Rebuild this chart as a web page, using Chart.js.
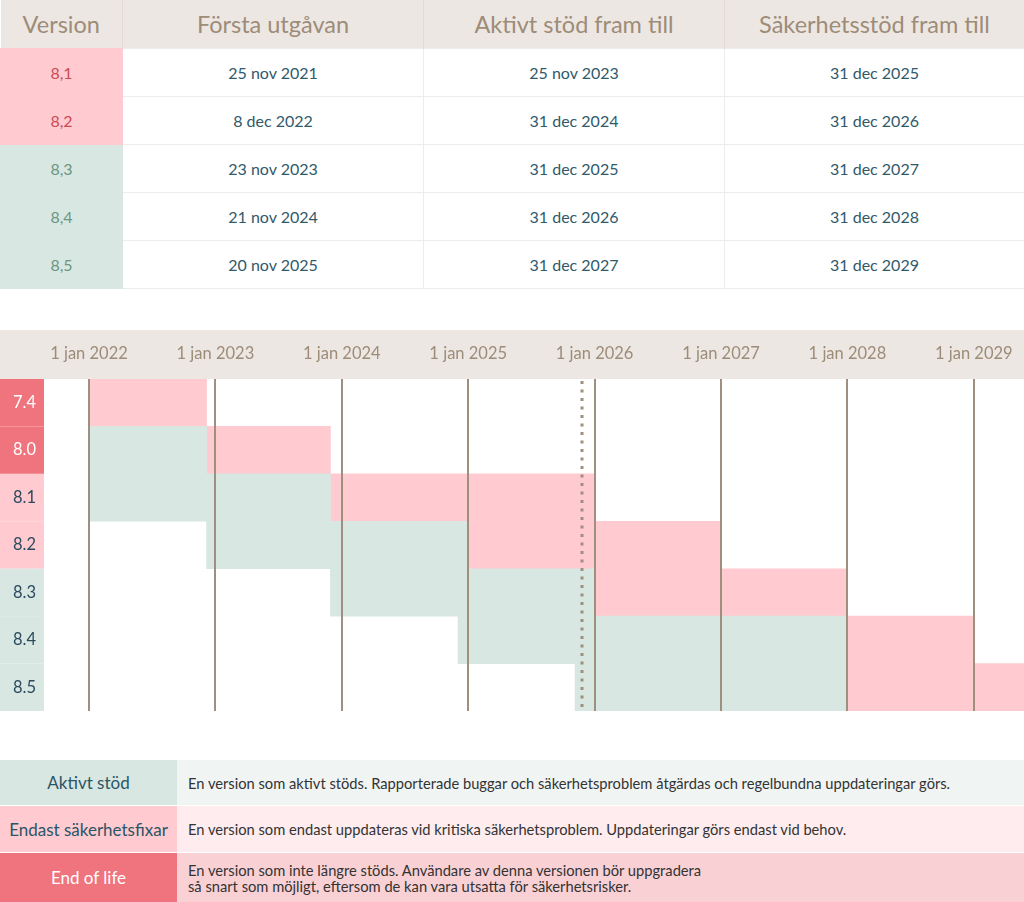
<!DOCTYPE html>
<html lang="sv">
<head>
<meta charset="utf-8">
<title>Versioner och support</title>
<script src="https://cdn.jsdelivr.net/npm/chart.js@4.4.1/dist/chart.umd.min.js"></script>
<style>
  body { margin: 0; width: 1024px; height: 902px; position: relative; overflow: hidden; background: #fff; font-family: Lato, 'Noto Sans', sans-serif; }
  table { border-collapse: collapse; table-layout: fixed; width: 1024px; }
  #versions { position: absolute; left: 0; top: 0; }
  #versions th { height: 48px; padding: 0; background: #ede7e3; color: #9d8c78; font-size: 23.5px; font-weight: normal; border-right: 1px solid #e2dbd6; }
  #versions td { height: 47px; padding: 0; text-align: center; color: #2f5a6b; font-size: 16px; border: 1px solid #ececec; }
  #versions td.sec { background: #ffcbd0; color: #cc4a55; border-color: #ffcbd0; }
  #versions td.act { background: #d8e7e2; color: #6e9580; border-color: #d8e7e2; }
  #chartBox { position: absolute; left: 0; top: 330px; width: 1024px; height: 381px; }
  #legend { position: absolute; left: 0; top: 760px; }
  #legend th { padding: 0; font-size: 17px; font-weight: normal; color: #2b5566; border-bottom: 1px solid #fff; }
  #legend td { padding: 0 0 0 11px; font-size: 14.7px; color: #333; line-height: 16px; border-bottom: 1px solid #fff; }
  #legend tr.act th { background: #d8e7e2; height: 45px; }
  #legend tr.act td { background: #f0f5f3; }
  #legend tr.sec th { background: #ffcbd0; height: 46px; }
  #legend tr.sec td { background: #feecee; }
  #legend tr.eol th { background: #ef747e; color: #fff; height: 49px; }
  #legend tr.eol td { background: #f9d1d5; }
</style>
</head>
<body>

<table id="versions">
  <colgroup><col style="width:122px"><col style="width:301px"><col style="width:301px"><col style="width:300px"></colgroup>
  <tr><th>Version</th><th>Första utgåvan</th><th>Aktivt stöd fram till</th><th>Säkerhetsstöd fram till</th></tr>
  <tr><td class="sec">8,1</td><td>25 nov 2021</td><td>25 nov 2023</td><td>31 dec 2025</td></tr>
  <tr><td class="sec">8,2</td><td>8 dec 2022</td><td>31 dec 2024</td><td>31 dec 2026</td></tr>
  <tr><td class="act">8,3</td><td>23 nov 2023</td><td>31 dec 2025</td><td>31 dec 2027</td></tr>
  <tr><td class="act">8,4</td><td>21 nov 2024</td><td>31 dec 2026</td><td>31 dec 2028</td></tr>
  <tr><td class="act">8,5</td><td>20 nov 2025</td><td>31 dec 2027</td><td>31 dec 2029</td></tr>
</table>

<div id="chartBox"><canvas id="timeline"></canvas></div>

<table id="legend">
  <colgroup><col style="width:177px"><col style="width:847px"></colgroup>
  <tr class="act"><th>Aktivt stöd</th><td>En version som aktivt stöds. Rapporterade buggar och säkerhetsproblem åtgärdas och regelbundna uppdateringar görs.</td></tr>
  <tr class="sec"><th>Endast säkerhetsfixar</th><td>En version som endast uppdateras vid kritiska säkerhetsproblem. Uppdateringar görs endast vid behov.</td></tr>
  <tr class="eol"><th>End of life</th><td>En version som inte längre stöds. Användare av denna versionen bör uppgradera<br>så snart som möjligt, eftersom de kan vara utsatta för säkerhetsrisker.</td></tr>
</table>

<script>
'use strict';

// chart data (decimal years)
var versions = ['7.4', '8.0', '8.1', '8.2', '8.3', '8.4', '8.5'];
var activeSupport = [
  null,
  [2022.0, 2022.93],
  [2022.0, 2023.91],
  [2022.93, 2025.0],
  [2023.91, 2026.0],
  [2024.92, 2028.0],
  [2025.845, 2028.0]
];
var securitySupport = [
  [2022.0, 2022.93],
  [2022.93, 2023.91],
  [2023.91, 2026.0],
  [2025.0, 2027.0],
  [2026.0, 2028.0],
  [2028.0, 2029.0],
  [2028.0, 2029.4]
];
var yearTicks = [2022, 2023, 2024, 2025, 2026, 2027, 2028, 2029];
var today = 2025.9;
var xMin = 2021.644;
var xMax = 2029.397;

// colors
var activeColor = '#d8e7e2';
var securityColor = '#ffcbd0';
var endOfLifeColor = '#ef747e';
var lineColor = '#9e8f7e';
var headerColor = '#ede7e3';
var headerTextColor = '#9d8c78';
var textColor = '#2b4a5e';

// status of each version on the "today" line
function statusOf(i){
  if(activeSupport[i] && activeSupport[i][1] > today){
    return 'active';
  }
  if(securitySupport[i] && securitySupport[i][1] > today){
    return 'security';
  }
  return 'eol';
}
function labelBackground(i){
  var status = statusOf(i);
  if(status === 'active') return activeColor;
  if(status === 'security') return securityColor;
  return endOfLifeColor;
}

// header band, version cells and the dotted today line
var backdrop = {
  id: 'backdrop',
  beforeDraw: function(chart){
    var ctx = chart.ctx;
    var area = chart.chartArea;
    var yScale = chart.scales.y;
    var rowHeight = (area.bottom - area.top) / versions.length;
    ctx.save();
    ctx.fillStyle = headerColor;
    ctx.fillRect(0, 0, chart.width, area.top);
    for (var i = 0; i < versions.length; i++) {
      var mid = yScale.getPixelForValue(i);
      ctx.fillStyle = labelBackground(i);
      ctx.fillRect(0, mid - rowHeight / 2, area.left, rowHeight);
    }
    ctx.restore();
  },
  afterDraw: function(chart){
    var ctx = chart.ctx;
    var area = chart.chartArea;
    var x = Math.round(chart.scales.x.getPixelForValue(today));
    ctx.save();
    ctx.strokeStyle = lineColor;
    ctx.lineWidth = 3;
    ctx.setLineDash([3, 5.5]);
    ctx.beginPath();
    ctx.moveTo(x, area.top + 2);
    ctx.lineTo(x, area.bottom);
    ctx.stroke();
    ctx.restore();
  }
};

new Chart(document.getElementById('timeline'), {
  type: 'bar',
  data: {
    labels: versions,
    datasets: [
      {
        label: 'Aktivt stöd',
        data: activeSupport,
        backgroundColor: activeColor,
        grouped: false,
        barPercentage: 1,
        categoryPercentage: 1,
        borderWidth: 0
      },
      {
        label: 'Endast säkerhetsfixar',
        data: securitySupport,
        backgroundColor: securityColor,
        grouped: false,
        barPercentage: 1,
        categoryPercentage: 1,
        borderWidth: 0
      }
    ]
  },
  options: {
    indexAxis: 'y',
    responsive: true,
    maintainAspectRatio: false,
    animation: false,
    layout: {padding: 0},
    plugins: {
      legend: {display: false},
      tooltip: {enabled: false}
    },
    scales: {
      x: {
        type: 'linear',
        position: 'top',
        min: xMin,
        max: xMax,
        afterBuildTicks: function(scale){
          scale.ticks = yearTicks.map(function(v) {return {value: v};});
        },
        afterFit: function(scale){
          scale.height = 49;
          scale.paddingLeft = 0;
          scale.paddingRight = 0;
        },
        ticks: {
          padding: 15,
          color: headerTextColor,
          font: {family: 'Lato', size: 16.5},
          maxRotation: 0,
          callback: function(value){
            return '1 jan ' + value;
          }
        },
        grid: {
          z: 1,
          color: lineColor,
          lineWidth: 2,
          drawTicks: false
        },
        border: {display: false}
      },
      y: {
        afterFit: function(scale){
          scale.width = 44;
          scale.paddingTop = 0;
          scale.paddingBottom = 0;
        },
        ticks: {
          crossAlign: 'center',
          padding: 0,
          font: {family: 'Lato', size: 16.5},
          color: function(context){
            return statusOf(context.index) === 'eol' ? '#ffffff' : textColor;
          }
        },
        grid: {display: false},
        border: {display: false}
      }
    }
  },
  plugins: [backdrop]
});
</script>
</body>
</html>
